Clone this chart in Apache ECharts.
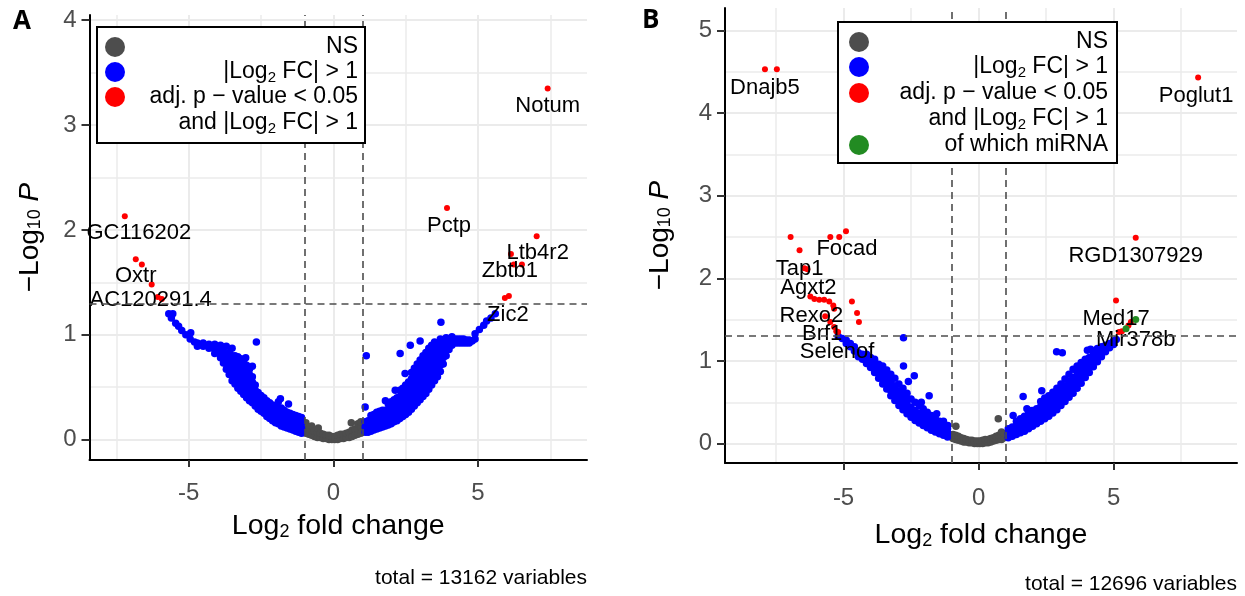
<!DOCTYPE html>
<html><head><meta charset="utf-8">
<script src="https://cdn.jsdelivr.net/npm/echarts@6/dist/echarts.min.js"></script>
<style>html,body{margin:0;padding:0;background:#fff}#c{width:1245px;height:596px}</style>
</head><body><div id="c"></div>
<script>
// ================= DATA =================
const xTicks = [-5, 0, 5];
const yTicksA = [0, 1, 2, 3, 4];
const yTicksB = [0, 1, 2, 3, 4, 5];
const fcCutoffs = [-1, 1];
const pCutoff = 1.301;
const captionA = 'total = 13162 variables';
const captionB = 'total = 12696 variables';

// Panel A
const nsA = [[-0.95,0.06],[-0.95,0.11],[-0.95,0.16],[-0.85,0.05],[-0.85,0.10],[-0.75,0.04],[-0.75,0.09],[-0.75,0.13],[-0.65,0.03],[-0.65,0.08],[-0.55,0.02],[-0.55,0.07],[-0.52,0.11],[-0.45,0.02],[-0.45,0.06],[-0.35,0.01],[-0.35,0.05],[-0.25,0.01],[-0.25,0.04],[-0.15,0.00],[-0.15,0.04],[-0.05,0.00],[-0.05,0.03],[0.05,0.00],[0.05,0.03],[0.15,0.00],[0.15,0.04],[0.25,0.01],[0.25,0.05],[0.35,0.01],[0.35,0.05],[0.45,0.02],[0.45,0.06],[0.55,0.02],[0.55,0.07],[0.62,0.16],[0.65,0.03],[0.65,0.09],[0.75,0.04],[0.75,0.10],[0.85,0.05],[0.85,0.10],[0.85,0.15],[0.95,0.06],[0.95,0.12],[0.95,0.17]];
const fcA = [
[-5.69,1.20],[-5.55,1.20],[-5.6,1.16],[-5.45,1.11],[-5.35,1.08],[-5.24,1.04],[-5.1,1.00],[-4.93,1.02],[-4.95,0.96],[-4.8,0.93],
[-4.7,0.92],[-4.7,0.89],[-4.5,0.92],[-4.5,0.89],[-4.3,0.91],[-4.3,0.87],[-4.1,0.91],[-4.1,0.86],[-4.1,0.82],
[-3.9,0.78],[-3.9,0.82],[-3.9,0.86],[-3.9,0.90],
[-3.8,0.73],[-3.8,0.78],[-3.8,0.83],[-3.8,0.88],
[-3.7,0.67],[-3.7,0.72],[-3.7,0.77],[-3.7,0.81],[-3.7,0.89],
[-3.6,0.62],[-3.6,0.67],[-3.6,0.72],[-3.6,0.77],[-3.6,0.83],
[-3.5,0.56],[-3.5,0.61],[-3.5,0.66],[-3.5,0.71],[-3.5,0.76],[-3.5,0.80],[-3.5,0.87],
[-3.4,0.53],[-3.4,0.58],[-3.4,0.63],[-3.4,0.68],[-3.4,0.73],[-3.4,0.80],
[-3.3,0.49],[-3.3,0.54],[-3.3,0.59],[-3.3,0.64],[-3.3,0.69],[-3.3,0.74],[-3.3,0.79],
[-3.2,0.46],[-3.2,0.51],[-3.2,0.56],[-3.2,0.61],[-3.2,0.66],[-3.2,0.71],[-3.2,0.77],
[-3.1,0.43],[-3.1,0.48],[-3.1,0.53],[-3.1,0.58],[-3.1,0.63],[-3.1,0.68],[-3.1,0.74],
[-3.0,0.40],[-3.0,0.45],[-3.0,0.50],[-3.0,0.55],[-3.0,0.60],[-3.0,0.65],[-3.0,0.71],
[-2.9,0.37],[-2.9,0.42],[-2.9,0.47],[-2.9,0.52],[-2.9,0.57],[-2.9,0.62],[-2.9,0.67],
[-2.8,0.35],[-2.8,0.40],[-2.8,0.45],[-2.8,0.50],[-2.8,0.55],[-2.8,0.60],
[-2.7,0.32],[-2.7,0.37],[-2.7,0.42],[-2.7,0.47],[-2.7,0.52],
[-2.6,0.29],[-2.6,0.34],[-2.6,0.39],[-2.6,0.45],
[-2.5,0.27],[-2.5,0.32],[-2.5,0.37],[-2.5,0.42],
[-2.4,0.25],[-2.4,0.30],[-2.4,0.35],[-2.4,0.40],
[-2.3,0.22],[-2.3,0.27],[-2.3,0.32],[-2.3,0.37],
[-2.2,0.20],[-2.2,0.25],[-2.2,0.30],[-2.2,0.35],
[-2.1,0.18],[-2.1,0.23],[-2.1,0.28],[-2.1,0.33],
[-2.0,0.16],[-2.0,0.21],[-2.0,0.26],[-2.0,0.32],
[-1.9,0.15],[-1.9,0.20],[-1.9,0.25],[-1.9,0.30],[-1.9,0.36],
[-1.8,0.13],[-1.8,0.18],[-1.8,0.24],[-1.8,0.30],
[-1.7,0.12],[-1.7,0.17],[-1.7,0.22],[-1.7,0.28],
[-1.6,0.11],[-1.6,0.16],[-1.6,0.21],[-1.6,0.26],
[-1.5,0.10],[-1.5,0.15],[-1.5,0.20],[-1.5,0.25],
[-1.4,0.09],[-1.4,0.14],[-1.4,0.19],[-1.4,0.24],
[-1.3,0.08],[-1.3,0.13],[-1.3,0.18],[-1.3,0.23],
[-1.2,0.07],[-1.2,0.12],[-1.2,0.17],[-1.2,0.22],
[-1.1,0.06],[-1.1,0.11],[-1.1,0.16],[-1.1,0.21],
[-2.66,0.93],[-1.83,0.39],[-1.55,0.34],[-3.03,0.78],[-2.8,0.70],
[1.1,0.07],[1.1,0.12],[1.1,0.17],
[1.2,0.07],[1.2,0.12],[1.2,0.18],
[1.3,0.08],[1.3,0.13],[1.3,0.18],[1.3,0.23],
[1.4,0.09],[1.4,0.14],[1.4,0.19],[1.4,0.24],
[1.5,0.10],[1.5,0.15],[1.5,0.20],[1.5,0.26],
[1.6,0.11],[1.6,0.16],[1.6,0.21],[1.6,0.27],
[1.7,0.12],[1.7,0.17],[1.7,0.22],[1.7,0.28],
[1.8,0.13],[1.8,0.18],[1.8,0.23],[1.8,0.28],
[1.9,0.14],[1.9,0.19],[1.9,0.24],[1.9,0.29],[1.9,0.34],
[2.0,0.15],[2.0,0.20],[2.0,0.25],[2.0,0.31],[2.0,0.36],
[2.1,0.17],[2.1,0.22],[2.1,0.27],[2.1,0.32],[2.1,0.38],
[2.2,0.18],[2.2,0.23],[2.2,0.28],[2.2,0.34],[2.2,0.40],
[2.3,0.20],[2.3,0.25],[2.3,0.30],[2.3,0.35],[2.3,0.41],[2.3,0.47],
[2.4,0.22],[2.4,0.27],[2.4,0.32],[2.4,0.37],[2.4,0.43],[2.4,0.49],
[2.5,0.24],[2.5,0.29],[2.5,0.34],[2.5,0.39],[2.5,0.45],[2.5,0.52],
[2.6,0.26],[2.6,0.31],[2.6,0.36],[2.6,0.42],[2.6,0.48],[2.6,0.55],
[2.7,0.29],[2.7,0.34],[2.7,0.39],[2.7,0.45],[2.7,0.51],[2.7,0.58],[2.7,0.64],
[2.8,0.32],[2.8,0.37],[2.8,0.42],[2.8,0.48],[2.8,0.54],[2.8,0.61],[2.8,0.68],
[2.9,0.35],[2.9,0.40],[2.9,0.46],[2.9,0.52],[2.9,0.58],[2.9,0.64],[2.9,0.72],
[3.0,0.38],[3.0,0.43],[3.0,0.49],[3.0,0.55],[3.0,0.61],[3.0,0.68],[3.0,0.76],
[3.1,0.41],[3.1,0.47],[3.1,0.53],[3.1,0.59],[3.1,0.65],[3.1,0.72],[3.1,0.80],
[3.2,0.44],[3.2,0.50],[3.2,0.56],[3.2,0.62],[3.2,0.69],[3.2,0.76],[3.2,0.83],
[3.3,0.48],[3.3,0.54],[3.3,0.60],[3.3,0.66],[3.3,0.73],[3.3,0.80],[3.3,0.87],
[3.4,0.52],[3.4,0.58],[3.4,0.64],[3.4,0.70],[3.4,0.77],[3.4,0.84],[3.4,0.90],
[3.5,0.56],[3.5,0.62],[3.5,0.68],[3.5,0.74],[3.5,0.81],[3.5,0.88],[3.5,0.93],
[3.6,0.60],[3.6,0.66],[3.6,0.72],[3.6,0.79],[3.6,0.86],[3.6,0.92],
[3.7,0.65],[3.7,0.71],[3.7,0.77],[3.7,0.84],[3.7,0.91],[3.7,0.96],
[3.8,0.72],[3.8,0.78],[3.8,0.84],[3.8,0.90],[3.8,0.95],
[3.9,0.80],[3.9,0.86],[3.9,0.92],[3.9,0.97],
[4.0,0.86],[4.0,0.91],[4.0,0.96],
[4.1,0.90],[4.1,0.95],[4.1,0.98],
[4.2,0.92],[4.2,0.96],[4.3,0.92],[4.3,0.96],[4.4,0.92],[4.4,0.96],[4.5,0.92],[4.5,0.96],[4.6,0.92],[4.6,0.95],[4.7,0.92],[4.7,0.95],[4.8,0.94],
[4.9,0.96],[4.9,1.01],[5.05,1.05],[5.2,1.09],[5.3,1.13],[5.45,1.16],[5.6,1.20],
[3.72,1.12],[1.14,0.80],[1.1,0.31],[3.0,0.94],[2.66,0.90],[2.31,0.82],[2.14,0.47],[1.8,0.37],[2.48,0.63]
];
const sigA = [
[7.41,3.35,'Notum'],[3.93,2.21,'Pctp'],[7.03,1.94,'Ltb4r2'],[6.14,1.77,'Zbtb1'],[6.24,1.67,''],[6.52,1.67,''],
[5.93,1.35,'Zic2'],[6.07,1.37,''],
[-7.21,2.13,'GC116202'],[-6.83,1.72,'Oxtr'],[-6.62,1.67,''],[-6.28,1.48,'AC120291.4'],[-6.07,1.36,''],[-5.93,1.34,'']
];

// Panel B
const nsB = [[-0.95,0.06],[-0.95,0.11],[-0.85,0.05],[-0.85,0.10],[-0.84,0.21],[-0.75,0.04],[-0.75,0.09],[-0.65,0.03],[-0.65,0.07],[-0.55,0.02],[-0.55,0.06],[-0.45,0.02],[-0.45,0.05],[-0.35,0.01],[-0.35,0.04],[-0.25,0.01],[-0.25,0.04],[-0.15,0.00],[-0.15,0.03],[-0.05,0.00],[-0.05,0.03],[0.05,0.00],[0.05,0.03],[0.15,0.00],[0.15,0.04],[0.25,0.01],[0.25,0.05],[0.35,0.01],[0.35,0.05],[0.45,0.02],[0.45,0.06],[0.55,0.03],[0.55,0.07],[0.65,0.04],[0.65,0.09],[0.73,0.30],[0.75,0.05],[0.75,0.10],[0.85,0.05],[0.85,0.10],[0.85,0.14],[0.95,0.07],[0.95,0.12]];
const fcB = [
[-5.2,1.30],[-5.05,1.27],[-4.9,1.21],[-4.9,1.25],[-4.75,1.17],[-4.75,1.21],[-4.6,1.12],[-4.6,1.17],[-4.45,1.05],[-4.45,1.10],[-4.3,1.02],[-4.3,1.08],
[-4.15,0.97],[-4.15,1.03],[-4.15,1.08],[-4.0,0.92],[-4.0,0.98],[-4.0,1.04],
[-3.85,0.86],[-3.85,0.92],[-3.85,0.98],[-3.85,1.02],
[-3.7,0.79],[-3.7,0.85],[-3.7,0.91],[-3.7,0.96],
[-3.55,0.72],[-3.55,0.78],[-3.55,0.84],[-3.55,0.90],[-3.55,0.94],
[-3.4,0.66],[-3.4,0.72],[-3.4,0.78],[-3.4,0.84],[-3.4,0.89],
[-3.25,0.58],[-3.25,0.64],[-3.25,0.70],[-3.25,0.76],[-3.25,0.84],
[-3.1,0.52],[-3.1,0.58],[-3.1,0.64],[-3.1,0.70],[-3.1,0.79],
[-2.95,0.46],[-2.95,0.52],[-2.95,0.58],[-2.95,0.64],[-2.95,0.72],
[-2.8,0.41],[-2.8,0.47],[-2.8,0.53],[-2.8,0.59],[-2.8,0.67],
[-2.65,0.36],[-2.65,0.42],[-2.65,0.48],[-2.65,0.54],[-2.65,0.61],
[-2.5,0.32],[-2.5,0.38],[-2.5,0.44],[-2.5,0.54],
[-2.35,0.28],[-2.35,0.34],[-2.35,0.40],[-2.35,0.50],
[-2.2,0.25],[-2.2,0.31],[-2.2,0.37],[-2.2,0.46],
[-2.05,0.22],[-2.05,0.28],[-2.05,0.34],[-2.05,0.42],
[-1.9,0.19],[-1.9,0.25],[-1.9,0.31],[-1.9,0.38],
[-1.75,0.16],[-1.75,0.22],[-1.75,0.28],[-1.75,0.34],
[-1.6,0.14],[-1.6,0.20],[-1.6,0.26],[-1.6,0.30],
[-1.45,0.12],[-1.45,0.17],[-1.45,0.22],[-1.45,0.27],
[-1.3,0.10],[-1.3,0.15],[-1.3,0.20],
[-1.15,0.08],[-1.15,0.13],[-1.15,0.18],
[-2.78,1.28],[-2.78,0.94],[-2.38,0.82],[-2.6,0.75],[-1.83,0.58],[-2.12,0.50],[-1.14,0.22],[-1.55,0.36],[-1.3,0.27],
[1.1,0.07],[1.1,0.12],[1.1,0.18],
[1.25,0.09],[1.25,0.14],[1.25,0.20],
[1.4,0.11],[1.4,0.16],[1.4,0.22],[1.4,0.27],
[1.55,0.13],[1.55,0.18],[1.55,0.24],[1.55,0.30],
[1.7,0.15],[1.7,0.20],[1.7,0.26],[1.7,0.33],
[1.85,0.18],[1.85,0.23],[1.85,0.29],[1.85,0.36],
[2.0,0.21],[2.0,0.26],[2.0,0.32],[2.0,0.39],
[2.15,0.24],[2.15,0.29],[2.15,0.35],[2.15,0.42],
[2.3,0.27],[2.3,0.32],[2.3,0.38],[2.3,0.45],[2.3,0.51],
[2.45,0.30],[2.45,0.35],[2.45,0.41],[2.45,0.48],[2.45,0.55],
[2.6,0.33],[2.6,0.39],[2.6,0.45],[2.6,0.52],[2.6,0.58],
[2.75,0.37],[2.75,0.43],[2.75,0.49],[2.75,0.56],[2.75,0.62],
[2.9,0.41],[2.9,0.47],[2.9,0.53],[2.9,0.60],[2.9,0.67],
[3.05,0.46],[3.05,0.52],[3.05,0.58],[3.05,0.65],[3.05,0.72],
[3.2,0.51],[3.2,0.57],[3.2,0.63],[3.2,0.70],[3.2,0.78],
[3.35,0.56],[3.35,0.62],[3.35,0.68],[3.35,0.75],[3.35,0.84],
[3.5,0.61],[3.5,0.67],[3.5,0.73],[3.5,0.80],[3.5,0.90],
[3.65,0.67],[3.65,0.73],[3.65,0.79],[3.65,0.86],[3.65,0.94],
[3.8,0.73],[3.8,0.79],[3.8,0.85],[3.8,0.92],[3.8,0.98],
[3.95,0.80],[3.95,0.86],[3.95,0.92],[3.95,0.98],[3.95,1.02],
[4.1,0.86],[4.1,0.92],[4.1,0.98],[4.1,1.04],
[4.25,0.93],[4.25,0.99],[4.25,1.05],[4.25,1.10],
[4.4,0.99],[4.4,1.05],[4.4,1.11],[4.4,1.15],
[4.55,1.05],[4.55,1.11],[4.55,1.17],
[4.7,1.11],[4.7,1.16],[4.7,1.19],
[4.85,1.16],[4.85,1.21],[5.0,1.20],[5.0,1.24],[5.1,1.26],
[2.89,1.11],[3.1,1.10],[4.03,1.13],[4.15,1.14],[2.34,0.64],[1.65,0.57],[1.79,0.42],[1.28,0.34],[1.98,0.40]
];
const sigB = [
[-7.91,4.53,'Dnajb5'],[-7.47,4.53,''],[8.13,4.43,'Poglut1'],
[-6.96,2.50,''],[-6.63,2.34,'Tap1'],[-5.49,2.50,''],[-5.16,2.50,''],[-4.91,2.57,'Focad'],
[-6.45,2.12,''],[-6.34,2.11,'Agxt2'],[-6.23,1.78,'Rexo2'],[-6.08,1.75,''],[-5.90,1.74,''],[-5.72,1.74,''],[-5.53,1.72,''],
[-5.38,1.67,''],[-5.35,1.63,''],[-4.69,1.72,''],[-4.50,1.58,''],[-4.43,1.47,''],
[-5.68,1.54,'Brf1'],[-5.49,1.47,''],[-5.35,1.41,''],[-5.27,1.36,''],[-5.20,1.35,'Selenof'],
[5.82,2.49,'RGD1307929'],[5.09,1.73,'Med17'],[5.64,1.47,''],[5.20,1.35,''],[5.31,1.36,''],[5.55,1.43,'']
];
const mirB = [[5.82,1.50,'Mir378b'],[5.46,1.39,'']];

// ================= STYLE / LAYOUT =================
const FONT = '"Liberation Sans", Arial, Helvetica, sans-serif';
const C_NS = '#4d4d4d', C_FC = '#0000ff', C_SIG = '#ff0000', C_MIR = '#228b22';
const labelOffsets = {
  Notum:[0,18], Pctp:[2,18], Ltb4r2:[1,17], Zbtb1:[-1,17], Zic2:[3,17],
  GC116202:[14,17], Oxtr:[0,17], 'AC120291.4':[-1,16],
  Dnajb5:[0,19], Poglut1:[-2,19], Focad:[1,18], Tap1:[0,19], Agxt2:[1,19], Rexo2:[1,19],
  Brf1:[-3,18], Selenof:[-1,20], RGD1307929:[0,18], Med17:[0,18], Mir378b:[0,20]
};
const subRich = { s: { fontSize: 18, fontFamily: FONT, verticalAlign: 'bottom', lineHeight: 18, color:'#000' },
                  i: { fontSize: 28, fontFamily: FONT, fontStyle: 'italic', color:'#000' } };

function xAxis(gi, min, max, gap, margin) {
  return {
    type:'value', gridIndex:gi, min, max, splitNumber:3,
    axisLine:{show:true, onZero:false, lineStyle:{color:'#000', width:2}},
    axisTick:{show:true, length:7, customValues:xTicks, lineStyle:{color:'#333', width:2}},
    axisLabel:{customValues:xTicks, color:'#4d4d4d', fontSize:24, fontFamily:FONT, margin},
    splitLine:{show:true, lineStyle:{color:'#ebebeb', width:2}},
    minorTick:{show:false, splitNumber:2},
    minorSplitLine:{show:true, lineStyle:{color:'#ebebeb', width:1.5}},
    name:'Log{s|2} fold change', nameLocation:'middle', nameGap:gap,
    nameTextStyle:{fontSize:28.5, fontFamily:FONT, color:'#000', rich:subRich}
  };
}
function yAxis(gi, min, max, ticks, gap, sn) {
  return {
    type:'value', gridIndex:gi, min, max, splitNumber:sn,
    axisLine:{show:true, onZero:false, lineStyle:{color:'#000', width:2}},
    axisTick:{show:true, length:8, customValues:ticks, lineStyle:{color:'#333', width:2}},
    axisLabel:{customValues:ticks, color:'#4d4d4d', fontSize:24, fontFamily:FONT, margin:13},
    splitLine:{show:true, lineStyle:{color:'#ebebeb', width:2}},
    minorTick:{show:false, splitNumber:2},
    minorSplitLine:{show:true, lineStyle:{color:'#ebebeb', width:1.5}},
    name:'\u2212Log{s|10} {i|P}', nameLocation:'middle', nameRotate:90, nameGap:gap,
    nameTextStyle:{fontSize:28, fontFamily:FONT, color:'#000', rich:subRich}
  };
}
function pts(arr) { return arr.map(d => [d[0], d[1]]); }
function labelled(arr) {
  return arr.map(d => {
    const item = { value:[d[0], d[1]] };
    if (d[2]) item.label = { show:true, formatter:d[2], offset:labelOffsets[d[2]] || [0,18] };
    return item;
  });
}
const labelStyle = { show:false, position:'inside', color:'#000', fontSize:22, fontFamily:FONT };
function panelSeries(gi, ns, fc, sig, mir) {
  const s = [
    { type:'scatter', xAxisIndex:gi, yAxisIndex:gi, data:pts(ns), symbolSize:7.5, itemStyle:{color:C_NS, opacity:1}, silent:true, z:2 },
    { type:'scatter', xAxisIndex:gi, yAxisIndex:gi, data:pts(fc), symbolSize:7.5, itemStyle:{color:C_FC, opacity:1}, silent:true, z:2 },
    { type:'scatter', xAxisIndex:gi, yAxisIndex:gi, data:labelled(sig), symbolSize:6, itemStyle:{color:C_SIG, opacity:1}, label:labelStyle, silent:true, z:3 }
  ];
  if (mir) s.push({ type:'scatter', xAxisIndex:gi, yAxisIndex:gi, data:labelled(mir), symbolSize:7, itemStyle:{color:C_MIR, opacity:1}, label:labelStyle, silent:true, z:3 });
  s.push({ type:'line', xAxisIndex:gi, yAxisIndex:gi, data:[], silent:true, z:4,
    markLine:{ silent:true, symbol:'none', label:{show:false}, animation:false,
      lineStyle:{color:'#4d4d4d', type:[7,5], width:1.6},
      data: fcCutoffs.map(v => ({xAxis:v})).concat([{yAxis:pCutoff}]) } });
  return s;
}

function legend(x, y, w, h, cx, tx, rows) {
  const els = [{ type:'rect', z:100, shape:{x, y, width:w, height:h}, style:{fill:'#fff', stroke:'#000', lineWidth:2} }];
  rows.forEach(r => {
    if (r.color) els.push({ type:'circle', z:101, shape:{cx, cy:r.y, r:10}, style:{fill:r.color} });
    els.push({ type:'text', z:101, style:{ x:tx, y:r.y, text:r.text, align:'right', verticalAlign:'middle',
      fontSize:23, fontFamily:FONT, fill:'#000', lineHeight:26,
      rich:{ s:{fontSize:15, fontFamily:FONT, verticalAlign:'bottom', lineHeight:15, fill:'#000'} } } });
  });
  return els;
}
const L_NS = 'NS', L_FC = '|Log{s|2} FC| > 1', L_P = 'adj. p \u2212 value < 0.05', L_AND = 'and |Log{s|2} FC| > 1', L_MIR = 'of which miRNA';

const option = {
  animation:false,
  grid:[ {left:89.5, top:15, width:497.5, height:445},
         {left:725, top:8, width:512, height:455} ],
  xAxis:[ xAxis(0, -8.43, 8.77, 52, 21), xAxis(1, -9.39, 9.57, 58, 23) ],
  yAxis:[ yAxis(0, -0.195, 4.05, yTicksA, 45, 4), yAxis(1, -0.235, 5.27, yTicksB, 51, 5) ],
  series: panelSeries(0, nsA, fcA, sigA, null).concat(panelSeries(1, nsB, fcB, sigB, mirB)),
  graphic: [].concat(
    legend(97, 27, 268, 116, 115, 358, [
      {color:C_NS, y:47, text:L_NS}, {color:C_FC, y:72, text:L_FC}, {color:C_SIG, y:97, text:L_P}, {color:null, y:123, text:L_AND} ]),
    legend(838, 22, 279, 141, 859, 1108, [
      {color:C_NS, y:42, text:L_NS}, {color:C_FC, y:67, text:L_FC}, {color:C_SIG, y:93, text:L_P}, {color:null, y:119, text:L_AND}, {color:C_MIR, y:145, text:L_MIR} ]),
    [
    { type:'text', z:100, style:{ x:587, y:578, text:captionA, align:'right', verticalAlign:'middle', fontSize:21, fontFamily:FONT, fill:'#000' } },
    { type:'text', z:100, style:{ x:1237, y:584, text:captionB, align:'right', verticalAlign:'middle', fontSize:21, fontFamily:FONT, fill:'#000' } },
    { type:'text', z:100, style:{ x:13, y:22, text:'A', verticalAlign:'middle', fontSize:26, fontWeight:'bold', fontFamily:'"Open Sans", sans-serif', fill:'#000' } },
    { type:'text', z:100, style:{ x:642, y:21, text:'B', verticalAlign:'middle', fontSize:26, fontWeight:'bold', fontFamily:'"Open Sans", sans-serif', fill:'#000' } }
    ])
};
const chart = echarts.init(document.getElementById('c'));
chart.setOption(option);
</script></body></html>
